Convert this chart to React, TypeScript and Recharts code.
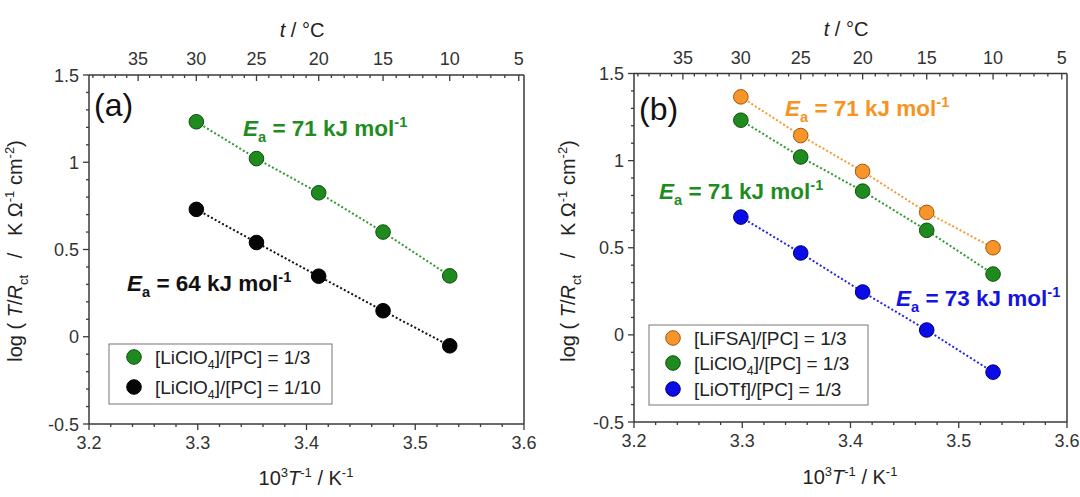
import React from 'react';
import { ScatterChart, Scatter, XAxis, YAxis, ReferenceLine } from 'recharts';

// 10^3 T^-1 of the five measuring temperatures (30, 25, 20, 15, 10 °C)
const invTemp = [3.2987, 3.354, 3.4112, 3.4704, 3.5317];

// log (T/Rct / K Ω-1 cm-2)
const liclo4Third = [1.232, 1.021, 0.825, 0.6, 0.349];
const liclo4Tenth = [0.73, 0.54, 0.347, 0.149, -0.052];
const lifsaThird = [1.366, 1.144, 0.938, 0.703, 0.5];
const liotfThird = [0.676, 0.47, 0.246, 0.028, -0.214];

// axis tick labels
const yMajor = [-0.5, 0, 0.5, 1, 1.5];
const xMajor = [3.2, 3.3, 3.4, 3.5, 3.6];
const celsiusMajor = [35, 30, 25, 20, 15, 10, 5];

// minor tick positions
const yTicks = Array.from({ length: 21 }, (_, i) => Math.round((-0.5 + i * 0.1) * 10) / 10);
const xTicks = Array.from({ length: 21 }, (_, i) => Math.round((3.2 + i * 0.02) * 100) / 100);
const topTicks = Array.from({ length: 35 }, (_, i) => 1000 / (39 - i + 273.15));

const toPoints = (ys: number[]) => invTemp.map((x, i) => ({ x, y: ys[i] }));

const AXIS = '#3a3a3a';
const LABEL = '#333';
const FONT = "'Liberation Sans', Arial, sans-serif";
const TICK_FS = 18;

const near = (list: number[], v: number) => list.some((m) => Math.abs(m - v) < 1e-6);

const LeftTick = (p: any) => {
  const { x, y, payload } = p;
  const major = near(yMajor, payload.value);
  return (
    <g>
      <line x1={x} x2={x - (major ? 6 : 3)} y1={y} y2={y} stroke={AXIS} strokeWidth={1.3} />
      {major && (
        <text x={x - 10} y={y + 6.5} textAnchor="end" fontSize={TICK_FS} fill={LABEL} fontFamily={FONT}>
          {payload.value}
        </text>
      )}
    </g>
  );
};

const BottomTick = (p: any) => {
  const { x, y, payload } = p;
  const major = near(xMajor, payload.value);
  return (
    <g>
      <line x1={x} x2={x} y1={y} y2={y + (major ? 6 : 3)} stroke={AXIS} strokeWidth={1.3} />
      {major && (
        <text x={x} y={y + 25} textAnchor="middle" fontSize={TICK_FS} fill={LABEL} fontFamily={FONT}>
          {payload.value.toFixed(1)}
        </text>
      )}
    </g>
  );
};

const TopTick = (p: any) => {
  const { x, y, payload } = p;
  const t = Math.round(1000 / payload.value - 273.15);
  const major = celsiusMajor.includes(t);
  return (
    <g>
      <line x1={x} x2={x} y1={y} y2={y + (major ? 6 : 3)} stroke={AXIS} strokeWidth={1.3} />
      {major && (
        <text x={x} y={y - 10} textAnchor="middle" fontSize={TICK_FS} fill={LABEL} fontFamily={FONT}>
          {t}
        </text>
      )}
    </g>
  );
};

const dot = (fill: string, stroke: string) => (p: any) =>
  <circle cx={p.cx} cy={p.cy} r={7.3} fill={fill} stroke={stroke} strokeWidth={1} />;
const noDot = () => <g />;

type Part = { t: string; s?: 'sub' | 'sup'; i?: boolean };

const Rich = ({ parts, size, x, y, anchor = 'start', fill = '#222', bold = false, transform }: any) => {
  let shift = 0;
  return (
    <text x={x} y={y} fontSize={size} fill={fill} fontFamily={FONT} textAnchor={anchor}
      fontWeight={bold ? 'bold' : 'normal'} transform={transform}>
      {(parts as Part[]).map((pt, k) => {
        const target = pt.s === 'sub' ? size * 0.28 : pt.s === 'sup' ? -size * 0.38 : 0;
        const dy = target - shift;
        shift = target;
        return (
          <tspan key={k} dy={dy} fontSize={pt.s ? size * 0.65 : size} fontStyle={pt.i ? 'italic' : 'normal'}>
            {pt.t}
          </tspan>
        );
      })}
    </text>
  );
};

const ea = (v: number): Part[] => [
  { t: 'E', i: true }, { t: 'a', s: 'sub' }, { t: ` = ${v} kJ mol` }, { t: '-1', s: 'sup' },
];
const yTitle: Part[] = [
  { t: 'log (\u00a0' }, { t: 'T', i: true }, { t: '/' }, { t: 'R', i: true }, { t: 'ct', s: 'sub' },
  { t: '\u00a0\u00a0 /\u00a0\u00a0 K \u03a9' }, { t: '-1', s: 'sup' }, { t: ' cm' }, { t: '-2', s: 'sup' }, { t: ')' },
];
const xTitle: Part[] = [
  { t: '10' }, { t: '3', s: 'sup' }, { t: 'T', i: true }, { t: '-1', s: 'sup' }, { t: ' / K' }, { t: '-1', s: 'sup' },
];
const tTitle: Part[] = [{ t: 't', i: true }, { t: ' / \u00b0C' }];
const salt = (name: string, sub?: string, ratio = '1/3'): Part[] =>
  sub
    ? [{ t: `[${name}` }, { t: sub, s: 'sub' }, { t: `]/[PC] = ${ratio}` }]
    : [{ t: `[${name}]/[PC] = ${ratio}` }];

const C = {
  green: { fill: '#1f8b1f', stroke: '#0c4f0c', line: '#2f9a2f', text: '#1f8c1f' },
  black: { fill: '#050505', stroke: '#000', line: '#111', text: '#111' },
  orange: { fill: '#f5952a', stroke: '#a5560c', line: '#f59a35', text: '#f7931e' },
  blue: { fill: '#0b0be8', stroke: '#00007a', line: '#2424e6', text: '#1414e0' },
};

type Series = { data: number[]; col: typeof C.green };

const Panel = ({ series, margin }: { series: Series[]; margin: any }) => (
  <ScatterChart width={540} height={497} margin={margin}>
    <XAxis xAxisId="b" dataKey="x" type="number" domain={[3.2, 3.6]} allowDataOverflow ticks={xTicks}
      interval={0} tick={BottomTick} tickLine={false} tickSize={0} tickMargin={0} height={40}
      axisLine={{ stroke: AXIS, strokeWidth: 1.5 }} />
    <XAxis xAxisId="t" dataKey="x" orientation="top" type="number" domain={[3.2, 3.6]} allowDataOverflow
      ticks={topTicks} interval={0} tick={TopTick} tickLine={false} tickSize={0} tickMargin={0} height={40}
      axisLine={{ stroke: AXIS, strokeWidth: 1.5 }} />
    <YAxis yAxisId="l" dataKey="y" type="number" domain={[-0.5, 1.5]} allowDataOverflow ticks={yTicks}
      interval={0} tick={LeftTick} tickLine={false} tickSize={0} tickMargin={0} width={50}
      axisLine={{ stroke: AXIS, strokeWidth: 1.5 }} />
    <ReferenceLine x={3.6} xAxisId="b" yAxisId="l" stroke={AXIS} strokeWidth={1.5} />
    {/* same points on the °C axis, not drawn, so that the top axis is laid out */}
    <Scatter xAxisId="t" yAxisId="l" data={toPoints(series[0].data)} shape={noDot} isAnimationActive={false} />
    {series.map((s, k) => (
      <Scatter key={k} xAxisId="b" yAxisId="l" data={toPoints(s.data)} fill={s.col.fill}
        line={{ stroke: s.col.line, strokeWidth: 2, strokeDasharray: '2 2.2' }}
        shape={dot(s.col.fill, s.col.stroke)} isAnimationActive={false} />
    ))}
  </ScatterChart>
);

const LegendRow = ({ x, y, col, parts }: any) => (
  <g>
    <circle cx={x} cy={y} r={7.3} fill={col.fill} stroke={col.stroke} strokeWidth={1} />
    <Rich parts={parts} size={19} x={x + 21} y={y + 6.5} fill="#222" />
  </g>
);

export default function App() {
  return (
    <div style={{ position: 'absolute', left: 0, top: 0, width: 1080, height: 497, background: '#fff' }}>
      <div style={{ position: 'absolute', left: 0, top: 0 }}>
        <Panel margin={{ left: 39, right: 16, top: 35, bottom: 33 }}
          series={[{ data: liclo4Third, col: C.green }, { data: liclo4Tenth, col: C.black }]} />
      </div>
      <div style={{ position: 'absolute', left: 540, top: 0 }}>
        <Panel margin={{ left: 44, right: 13, top: 33.5, bottom: 35 }}
          series={[{ data: lifsaThird, col: C.orange }, { data: liclo4Third, col: C.green }, { data: liotfThird, col: C.blue }]} />
      </div>
      <svg width={1080} height={497} style={{ position: 'absolute', left: 0, top: 0, pointerEvents: 'none' }}>
        {/* panel (a) */}
        <text x={94} y={116} fontSize={32} fill="#111" fontFamily={FONT}>(a)</text>
        <Rich parts={ea(71)} size={22.5} bold x={243} y={136} fill={C.green.text} />
        <Rich parts={ea(64)} size={22.5} bold x={127} y={291} fill={C.black.text} />
        <rect x={109} y={344} width={223} height={60} fill="#fff" stroke="#777" strokeWidth={1} />
        <LegendRow x={134} y={357} col={C.green} parts={salt('LiClO', '4')} />
        <LegendRow x={134} y={387} col={C.black} parts={salt('LiClO', '4', '1/10')} />
        <Rich parts={yTitle} size={20} x={0} y={7} anchor="middle" transform="translate(15,251) rotate(-90)" />
        <Rich parts={xTitle} size={20} x={306} y={485} anchor="middle" />
        <Rich parts={tTitle} size={20} x={302} y={37} anchor="middle" />

        {/* panel (b) */}
        <text x={639} y={120} fontSize={32} fill="#111" fontFamily={FONT}>(b)</text>
        <Rich parts={ea(71)} size={22.5} bold x={785} y={116} fill={C.orange.text} />
        <Rich parts={ea(71)} size={22.5} bold x={659} y={199} fill={C.green.text} />
        <Rich parts={ea(73)} size={22.5} bold x={896} y={306} fill={C.blue.text} />
        <rect x={649} y={325} width={219} height={80} fill="#fff" stroke="#777" strokeWidth={1} />
        <LegendRow x={673} y={338} col={C.orange} parts={salt('LiFSA')} />
        <LegendRow x={673} y={363} col={C.green} parts={salt('LiClO', '4')} />
        <LegendRow x={673} y={389} col={C.blue} parts={salt('LiOTf')} />
        <Rich parts={yTitle} size={20} x={0} y={7} anchor="middle" transform="translate(568,251) rotate(-90)" />
        <Rich parts={xTitle} size={20} x={850} y={484} anchor="middle" />
        <Rich parts={tTitle} size={20} x={846} y={36} anchor="middle" />
      </svg>
    </div>
  );
}
